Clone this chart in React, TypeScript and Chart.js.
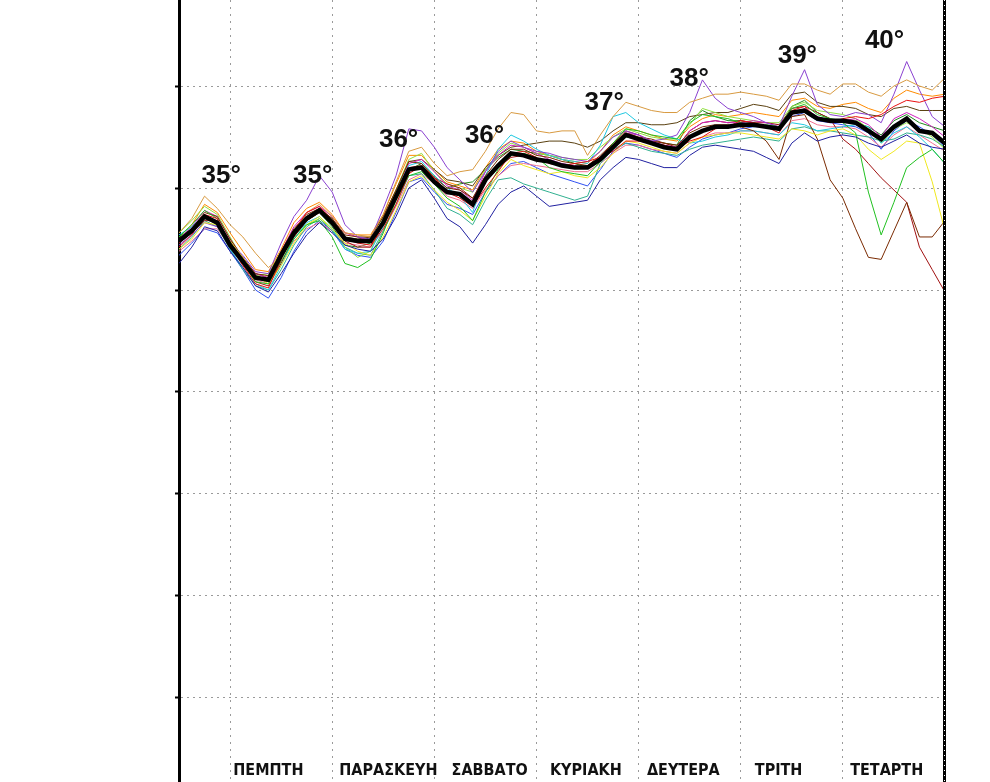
import { useEffect, useRef } from "react";
import { Chart, registerables } from "chart.js";

Chart.register(...registerables);

// forecast hours, 3-hourly, starting Wednesday 12:00
const hours = [0,3,6,9,12,15,18,21,24,27,30,33,36,39,42,45,48,51,54,57,60,63,66,69,72,75,78,81,84,87,90,93,96,99,102,105,108,111,114,117,120,123,126,129,132,135,138,141,144,147,150,153,156,159,162,165,168,171,174,177,180];
const dayGridHours = [12,36,60,84,108,132,156];
const valueGridLines = [0,5,10,15,20,25,30];
const dayNames = ["ΠΕΜΠΤΗ","ΠΑΡΑΣΚΕΥΗ","ΣΑΒΒΑΤΟ","ΚΥΡΙΑΚΗ","ΔΕΥΤΕΡΑ","ΤΡΙΤΗ","ΤΕΤΑΡΤΗ"];
const dayLabelHours = [21.0,49.2,73.0,95.6,118.5,140.9,166.3];
const maxLabels = ["35°","35°","36°","36°","37°","38°","39°","40°"];
const maxLabelHours = [9.9,31.4,51.6,71.8,99.9,119.9,145.3,165.8];
const maxLabelValues = [25.25,25.25,27.01,27.21,28.82,30.0,31.13,31.86];

const meanSeries = [22.4,22.9,23.6,23.3,22.2,21.4,20.6,20.5,21.7,22.8,23.5,23.9,23.3,22.5,22.4,22.4,23.3,24.6,25.9,26.0,25.3,24.8,24.7,24.2,25.4,26.1,26.7,26.6,26.4,26.3,26.1,26.0,26.0,26.4,27.0,27.6,27.4,27.2,27.0,26.9,27.5,27.8,28.0,28.0,28.1,28.1,28.0,27.9,28.7,28.8,28.4,28.3,28.3,28.2,27.8,27.4,28.0,28.4,27.8,27.7,27.2];

const memberRed = [22.1,22.7,23.7,23.5,22.2,21.2,20.3,20.1,21.5,22.9,23.8,24.1,23.4,22.5,22.3,22.2,23.0,24.2,25.7,26.1,25.5,24.8,24.5,24.1,25.0,25.8,26.7,26.8,26.5,26.2,26.1,26.2,26.3,26.5,26.8,27.3,27.3,27.2,27.1,26.9,27.3,27.5,27.9,28.0,28.3,28.2,28.0,27.7,28.8,29.0,28.4,28.2,28.4,28.5,28.4,28.6,29.0,29.3,29.2,29.4,29.5];
const memberNavy = [21.3,22.1,23.1,22.9,21.9,21.1,20.2,19.9,20.8,21.8,22.7,23.3,22.8,22.2,22.0,21.9,22.5,23.6,25.0,25.4,24.5,23.5,23.1,22.3,23.2,24.2,24.8,25.1,24.6,24.1,24.2,24.3,24.4,25.4,26.0,26.5,26.4,26.2,26.0,26.0,26.6,27.0,27.1,27.0,26.9,26.8,26.5,26.2,27.2,27.7,27.3,27.5,27.6,27.5,27.2,27.0,27.3,27.6,27.2,27.0,26.9];
const memberGreen = [22.6,23.2,23.9,23.5,22.3,21.3,20.4,20.3,21.4,22.5,23.2,23.4,22.6,21.3,21.1,21.5,22.8,24.4,25.6,25.8,25.2,24.5,24.1,23.4,24.8,25.9,26.6,26.7,26.5,26.0,25.8,25.7,25.6,26.3,27.2,27.9,27.8,27.6,27.5,27.4,28.2,28.6,28.5,28.4,28.2,28.0,28.1,28.0,28.9,29.1,28.6,28.4,28.2,27.7,24.8,22.7,24.3,26.0,26.5,26.9,26.2];
const memberYellow = [22.0,22.5,23.3,23.2,22.4,21.6,20.7,20.3,21.2,22.3,23.2,23.6,23.0,22.3,21.9,21.7,22.6,23.9,25.3,25.6,24.9,24.3,23.9,23.4,24.6,25.7,26.4,26.1,25.9,25.7,25.8,25.6,25.5,26.0,26.7,27.3,27.2,27.0,26.8,26.7,27.2,27.5,27.6,27.7,27.7,27.6,27.5,27.4,27.9,27.8,27.6,27.8,27.9,27.6,26.9,26.4,26.8,27.3,27.2,25.3,22.9];
const memberTan = [22.8,23.5,24.6,24.0,23.2,22.6,21.8,21.1,21.6,22.9,23.8,24.2,23.6,22.8,22.7,22.6,23.7,25.3,26.8,27.0,26.2,25.6,25.8,25.9,26.8,27.9,28.7,28.6,27.8,27.7,27.8,27.8,26.6,27.6,28.5,29.2,29.0,28.8,28.7,28.7,29.2,29.4,29.6,29.6,29.7,29.6,29.5,29.3,30.1,30.1,29.8,29.6,30.1,30.1,29.7,29.5,30.0,30.3,30.0,29.8,30.4];
const memberViolet = [22.2,22.7,23.3,23.1,22.3,21.7,20.9,20.8,22.3,23.6,24.4,25.6,24.8,23.2,22.6,22.5,24.0,25.6,27.9,27.8,27.0,26.0,25.4,24.8,25.8,26.8,27.3,27.0,26.8,26.7,26.5,26.4,26.3,26.8,27.5,27.8,27.6,27.3,27.4,27.6,28.7,30.3,29.4,28.9,28.7,28.5,28.2,28.0,29.5,30.8,29.1,28.6,28.5,28.7,28.6,28.2,29.6,31.2,29.8,28.5,28.0];
const memberBrown = [22.5,23.0,23.8,23.6,22.5,21.6,20.8,20.7,21.9,23.0,23.7,24.0,23.5,22.7,22.6,22.6,23.6,24.9,26.3,26.2,25.5,25.0,24.9,24.5,25.6,26.4,26.9,26.9,26.6,26.5,26.3,26.2,26.1,26.6,27.2,27.7,27.5,27.4,27.2,27.1,27.7,28.0,28.1,28.1,28.0,27.8,27.3,26.4,28.5,28.6,27.4,25.4,24.5,23.0,21.6,21.5,22.9,24.3,22.6,22.6,23.4];
const memberCyan = [22.7,23.1,23.7,23.2,22.0,21.1,20.3,20.0,21.2,22.5,23.3,23.6,23.0,22.0,21.8,21.9,23.1,24.8,26.1,26.3,25.6,25.0,24.6,23.8,25.6,26.9,27.6,27.3,26.9,26.6,26.4,26.3,26.2,27.1,28.5,28.7,28.2,27.9,27.6,27.4,27.2,27.3,27.5,27.6,27.8,27.8,27.7,27.6,28.2,28.1,27.8,27.9,28.0,28.1,28.0,27.2,27.7,28.0,27.5,26.9,26.2];
const memberMagenta = [22.5,23.1,23.9,23.6,22.5,21.6,20.8,20.6,21.9,23.1,23.8,24.1,23.6,22.8,22.6,22.4,23.2,24.7,26.2,26.4,25.8,25.1,24.9,24.4,25.8,26.6,27.1,27.0,26.7,26.4,26.2,26.1,26.0,26.5,27.0,27.7,27.6,27.3,27.1,27.0,27.8,28.2,28.3,28.2,28.2,28.3,28.2,28.0,28.6,28.9,28.5,28.3,28.3,28.4,28.1,27.5,28.4,28.7,28.4,28.0,27.5];
const memberMaroon = [22.3,22.8,23.4,23.4,22.3,21.3,20.4,20.2,21.3,22.6,23.4,23.8,23.2,22.4,22.1,22.1,23.2,24.6,26.0,26.1,25.5,25.2,25.0,24.5,25.3,26.0,26.5,26.6,26.4,26.3,26.1,26.0,26.1,26.5,27.2,27.8,27.6,27.3,27.2,27.0,27.8,28.2,28.3,28.2,28.3,28.2,28.2,28.1,28.9,29.0,28.7,28.4,27.4,26.9,26.2,25.5,24.9,24.3,22.1,21.0,19.9];
const memberLime = [22.8,23.4,24.1,23.7,22.6,21.5,20.7,20.8,21.9,22.7,23.2,23.5,23.0,22.1,21.6,21.9,23.4,24.9,26.4,26.7,25.8,25.2,25.0,24.8,25.9,26.7,27.2,27.0,26.7,26.6,26.5,26.4,26.4,27.0,27.5,27.9,27.7,27.5,27.4,27.4,28.1,28.9,28.7,28.5,28.4,28.3,28.2,28.2,29.0,29.2,28.8,28.7,28.6,28.4,27.9,27.2,27.9,28.2,27.9,27.5,26.9];
const memberOlive = [22.4,22.9,23.5,23.4,22.4,21.5,20.8,20.6,21.8,22.9,23.6,24.0,23.5,22.6,22.5,22.6,23.6,24.9,26.3,26.4,25.9,25.4,25.3,25.1,26.0,26.6,27.0,27.1,27.2,27.3,27.3,27.2,27.0,27.3,27.8,28.2,28.2,28.1,28.1,28.2,28.5,28.6,28.7,28.7,28.9,29.1,29.0,28.8,29.6,29.7,29.2,29.0,29.0,28.9,28.6,28.5,28.9,29.0,28.8,28.8,28.8];
const memberTeal = [22.0,22.6,23.4,23.1,22.0,21.0,20.2,20.0,21.0,22.2,23.1,23.5,22.9,22.1,21.8,21.7,22.9,24.2,25.6,25.7,24.9,24.0,23.7,23.2,24.4,25.4,25.5,25.2,25.0,24.8,24.6,24.4,24.6,26.2,26.9,27.2,27.0,26.8,26.7,26.6,26.9,27.1,27.2,27.3,27.4,27.5,27.4,27.3,27.9,28.0,27.8,27.8,27.7,27.6,27.5,27.3,27.4,27.7,27.6,27.4,27.0];
const memberOrange = [22.6,23.2,24.2,23.8,22.8,21.9,21.0,20.9,22.0,23.3,24.0,24.3,23.7,22.8,22.7,22.7,23.7,25.2,26.6,26.6,25.9,25.3,25.1,24.9,26.0,26.9,27.3,27.2,26.8,26.6,26.4,26.3,26.2,26.8,27.6,28.0,27.8,27.6,27.4,27.3,28.0,28.4,28.6,28.5,28.6,28.7,28.6,28.5,29.3,29.4,29.0,28.9,29.1,29.2,28.9,28.7,29.4,29.8,29.6,29.5,29.6];
const memberPink = [21.9,22.4,23.0,23.0,22.1,21.2,20.5,20.3,21.4,22.4,23.0,23.3,22.9,22.3,22.2,22.1,22.9,24.1,25.4,25.7,25.2,24.6,24.4,24.0,24.9,25.6,26.1,26.2,26.1,26.0,25.9,25.8,25.8,26.2,26.7,27.1,27.1,26.9,26.8,26.7,27.2,27.5,27.7,27.7,27.8,27.8,27.7,27.6,28.3,28.4,28.1,28.0,28.0,27.9,27.5,27.0,27.6,28.0,27.6,27.2,26.8];
const memberBlue = [21.7,22.3,23.0,22.8,21.9,21.0,20.0,19.6,20.6,21.9,22.9,23.4,22.9,22.0,21.7,21.6,22.4,23.8,25.3,25.5,24.8,24.2,24.0,23.7,24.8,25.6,26.2,26.3,26.0,25.7,25.5,25.3,25.1,25.9,26.8,27.2,27.1,26.9,26.7,26.5,27.0,27.4,27.6,27.7,27.9,28.0,28.0,27.9,28.5,28.7,28.3,28.2,28.1,28.0,27.7,26.9,27.8,28.3,28.0,27.6,27.0];
const memberDarkGreen = [22.6,23.0,23.6,23.2,22.1,21.3,20.6,20.4,21.6,22.6,23.4,23.8,23.1,22.2,22.1,22.3,23.5,24.7,25.9,26.2,25.6,25.0,25.2,25.3,25.9,26.5,26.9,26.8,26.7,26.6,26.4,26.2,26.0,26.4,27.0,27.5,27.4,27.3,27.2,27.1,28.3,28.8,28.5,28.3,28.3,28.2,28.0,27.9,29.0,29.3,28.7,28.4,28.3,28.2,28.0,27.6,28.3,28.6,28.2,28.0,27.8];

const members = [memberRed, memberNavy, memberGreen, memberYellow, memberTan, memberViolet, memberBrown, memberCyan, memberMagenta, memberMaroon, memberLime, memberOlive, memberTeal, memberOrange, memberPink, memberBlue, memberDarkGreen];
const memberColors = ["#e81010","#2020a0","#20c020","#f0e820","#d89a40","#8a40d0","#7a2a00","#20c8e0","#d020c0","#a01010","#90e040","#5a4010","#30b090","#ff8a00","#f07090","#3050f0","#208a20"];

const FONT = "'Liberation Sans', Arial, sans-serif";
const NARROW = "'DejaVu Sans Condensed', 'Liberation Sans Narrow', Arial, sans-serif";

const overlayPlugin = {
  id: "overlay",
  afterDraw(chart: any) {
    const { ctx, chartArea, scales } = chart;
    const xs = scales.x;
    const ys = scales.y;
    ctx.save();
    // right frame line
    ctx.strokeStyle = "#000";
    ctx.lineWidth = 3;
    ctx.beginPath();
    ctx.moveTo(chartArea.right - 0.5, chartArea.top);
    ctx.lineTo(chartArea.right - 0.5, chartArea.bottom);
    ctx.stroke();
    ctx.strokeStyle = "#fff";
    ctx.lineWidth = 1;
    ctx.setLineDash([1, 4]);
    ctx.beginPath();
    ctx.moveTo(chartArea.right - 0.5, chartArea.top);
    ctx.lineTo(chartArea.right - 0.5, chartArea.bottom);
    ctx.stroke();
    ctx.setLineDash([]);
    // max temperature labels
    ctx.fillStyle = "#111";
    ctx.font = `bold 26px ${FONT}`;
    ctx.textAlign = "center";
    ctx.textBaseline = "alphabetic";
    maxLabels.forEach((t, i) => {
      ctx.fillText(t, xs.getPixelForValue(maxLabelHours[i]), ys.getPixelForValue(maxLabelValues[i]));
    });
    // day names
    ctx.font = `bold 16px ${NARROW}`;
    dayNames.forEach((t, i) => {
      ctx.fillText(t, xs.getPixelForValue(dayLabelHours[i]), chartArea.bottom - 7);
    });
    ctx.restore();
  },
};

export default function App() {
  const ref = useRef<HTMLCanvasElement>(null);
  useEffect(() => {
    if (!ref.current) return;
    const datasets: any[] = members.map((m, i) => ({
      data: m.map((v, j) => ({ x: hours[j], y: v })),
      borderColor: memberColors[i],
      borderWidth: 1,
      pointRadius: 0,
      tension: 0,
      order: 1,
    }));
    datasets.push({
      data: meanSeries.map((v, j) => ({ x: hours[j], y: v })),
      borderColor: "#000",
      borderWidth: 4.5,
      pointRadius: 0,
      tension: 0,
      order: 0,
    });
    const chart = new Chart(ref.current, {
      type: "line",
      data: { datasets },
      options: {
        responsive: false,
        animation: false,
        layout: { padding: { left: 175, right: 45, top: 0, bottom: 0 } },
        plugins: { legend: { display: false }, tooltip: { enabled: false } },
        scales: {
          x: {
            type: "linear",
            min: 0,
            max: 180,
            afterBuildTicks: (s: any) => { s.ticks = dayGridHours.map((v) => ({ value: v })); },
            ticks: { display: false },
            grid: { color: "#9a9a9a", lineWidth: 1, drawTicks: false },
            border: { display: false, dash: [2, 5] },
          },
          y: {
            type: "linear",
            min: -4.118,
            max: 34.216,
            afterBuildTicks: (s: any) => { s.ticks = valueGridLines.map((v) => ({ value: v })); },
            ticks: { display: false },
            grid: { color: "#9a9a9a", lineWidth: 1, drawTicks: true, tickLength: 4, tickColor: "#000", tickWidth: 2 },
            border: { display: true, color: "#000", width: 3, dash: [2, 4] },
          },
        },
      },
      plugins: [overlayPlugin],
    });
    return () => chart.destroy();
  }, []);
  return (
    <div style={{ position: "fixed", left: 0, top: 0, width: 990, height: 782, background: "#fff" }}>
      <canvas ref={ref} width={990} height={782} style={{ display: "block" }} />
    </div>
  );
}
